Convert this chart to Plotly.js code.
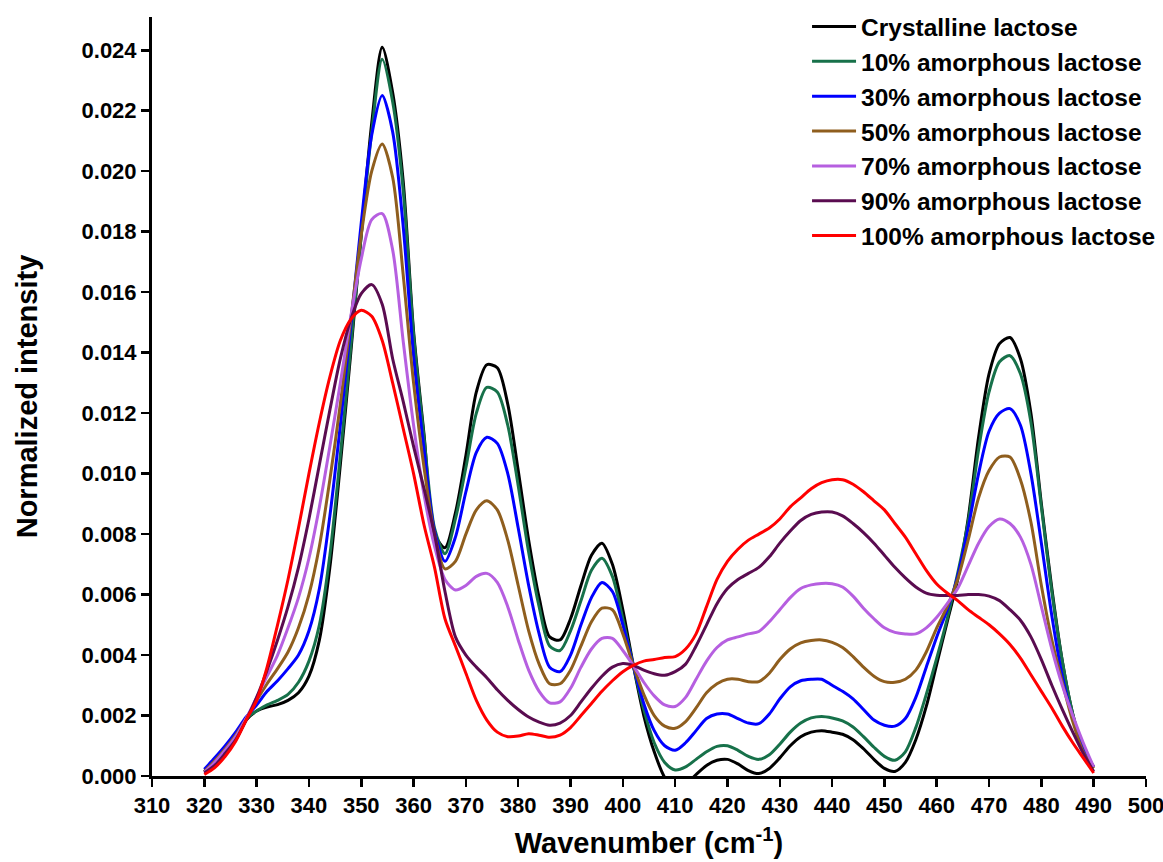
<!DOCTYPE html>
<html>
<head>
<meta charset="utf-8">
<script src="https://cdn.plot.ly/plotly-3.0.1.min.js"></script>
<style>
html,body{margin:0;padding:0;background:#fff;}
#chart{width:1163px;height:862px;}
</style>
</head>
<body>
<div id="chart"></div>
<script>
// Wavenumber grid (cm-1)
const wavenumber = [320,322,324,326,328,330,332,334,336,338,
340,342,344,346,348,350,352,354,356,358,
360,362,364,366,368,370,372,374,376,378,
380,382,384,386,388,390,392,394,396,398,
400,402,404,406,408,410,412,414,416,418,
420,422,424,426,428,430,432,434,436,438,
440,442,444,446,448,450,452,454,456,458,
460,462,464,466,468,470,472,474,476,478,
480,482,484,486,488,490];

// Normalized intensity, in units of 0.001
const crystalline = [0.15,0.4,0.75,1.2,1.85,2.15,2.28,2.36,2.5,2.75,
3.3,4.5,6.9,10.3,14.0,17.9,21.6,24.1,22.6,19.7,
14.7,11.3,8.0,7.55,8.7,10.6,12.7,13.6,13.5,12.3,
10.1,7.8,5.9,4.6,4.5,5.2,6.3,7.3,7.7,7.0,
5.5,3.66,2.0,0.8,-0.05,-0.5,-0.3,0.05,0.35,0.52,
0.55,0.4,0.18,0.08,0.25,0.6,1.0,1.3,1.45,1.5,
1.45,1.38,1.2,0.9,0.55,0.25,0.15,0.45,1.2,2.3,
3.7,5.1,6.5,8.5,11.2,13.3,14.3,14.5,13.8,12.0,
9.0,6.2,3.8,2.05,0.9,0.3];

const amorphous10 = [0.15,0.45,0.8,1.25,1.9,2.15,2.35,2.5,2.7,3.1,
3.8,5.0,7.3,10.6,14.2,17.9,21.3,23.7,22.3,19.4,
14.6,11.2,8.2,7.35,8.5,10.2,12.0,12.85,12.7,11.6,
9.6,7.4,5.6,4.3,4.15,4.8,5.8,6.8,7.2,6.6,
5.2,3.65,2.2,1.1,0.45,0.2,0.3,0.55,0.8,0.98,
1.0,0.85,0.65,0.55,0.7,1.05,1.45,1.75,1.92,1.97,
1.92,1.82,1.62,1.3,0.95,0.65,0.52,0.8,1.6,2.7,
3.9,5.2,6.7,8.4,10.8,12.7,13.7,13.9,13.3,11.7,
8.9,6.1,3.8,2.05,0.9,0.3];

const amorphous30 = [0.22,0.6,1.0,1.45,1.95,2.35,2.8,3.15,3.55,4.0,
4.8,6.2,8.6,11.6,14.9,18.3,21.2,22.5,21.3,18.2,
13.9,10.8,8.1,7.1,7.9,9.4,10.7,11.2,11.0,10.0,
8.2,6.3,4.7,3.6,3.45,4.0,5.0,5.9,6.4,6.1,
5.0,3.65,2.4,1.5,1.0,0.85,1.1,1.5,1.9,2.05,
2.05,1.9,1.75,1.73,2.05,2.55,2.95,3.15,3.2,3.2,
3.0,2.8,2.55,2.2,1.85,1.68,1.65,1.9,2.6,3.6,
4.6,5.5,6.6,8.2,10.0,11.4,12.0,12.15,11.6,10.0,
7.7,5.3,3.3,1.9,0.85,0.3];

const amorphous50 = [0.15,0.5,0.9,1.35,1.9,2.5,3.05,3.55,4.1,4.9,
6.0,7.6,9.8,12.3,15.1,17.9,20.0,20.9,19.8,16.6,
13.0,10.2,8.0,6.85,7.1,8.0,8.8,9.1,8.8,7.8,
6.3,4.8,3.7,3.05,3.05,3.5,4.3,5.1,5.55,5.5,
4.7,3.65,2.7,2.0,1.65,1.58,1.8,2.25,2.75,3.05,
3.2,3.2,3.12,3.12,3.4,3.85,4.2,4.4,4.48,4.5,
4.42,4.25,3.95,3.6,3.3,3.12,3.1,3.2,3.5,4.1,
4.9,5.6,6.5,7.8,9.2,10.1,10.55,10.55,9.8,8.4,
6.3,4.5,3.1,1.8,0.8,0.25];

const amorphous70 = [0.12,0.45,0.85,1.3,1.9,2.6,3.3,4.0,4.9,5.9,
7.2,8.9,10.9,13.0,15.2,17.1,18.4,18.6,17.4,14.4,
11.6,9.3,7.6,6.5,6.15,6.3,6.6,6.7,6.4,5.6,
4.5,3.5,2.8,2.42,2.45,2.9,3.6,4.2,4.55,4.55,
4.15,3.65,3.1,2.65,2.35,2.3,2.6,3.2,3.8,4.25,
4.5,4.6,4.7,4.78,5.1,5.5,5.9,6.2,6.32,6.37,
6.36,6.25,5.95,5.55,5.2,4.9,4.75,4.7,4.7,4.9,
5.25,5.7,6.2,6.95,7.7,8.25,8.5,8.35,7.9,7.0,
5.6,4.2,3.0,2.0,1.1,0.3];

const amorphous90 = [0.1,0.35,0.75,1.2,1.85,2.6,3.5,4.5,5.6,6.9,
8.5,10.3,12.1,13.8,15.1,15.95,16.25,15.6,13.8,12.4,
10.9,9.5,8.0,6.1,4.6,4.0,3.6,3.25,2.85,2.5,
2.2,1.95,1.78,1.68,1.75,2.0,2.45,2.9,3.3,3.6,
3.72,3.66,3.5,3.38,3.33,3.45,3.7,4.3,5.0,5.7,
6.2,6.5,6.7,6.9,7.25,7.7,8.1,8.45,8.65,8.73,
8.73,8.6,8.35,8.05,7.7,7.3,6.9,6.55,6.25,6.05,
5.98,5.97,5.97,6.0,6.0,5.95,5.8,5.5,5.15,4.6,
3.85,3.0,2.2,1.45,0.75,0.15];

const amorphous100 = [0.05,0.28,0.65,1.15,1.85,2.5,3.6,5.0,6.5,8.2,
10.0,11.7,13.2,14.4,15.1,15.4,15.2,14.4,13.0,11.5,
10.0,8.3,6.9,5.2,4.3,3.4,2.5,1.85,1.45,1.3,
1.32,1.4,1.35,1.28,1.35,1.6,2.0,2.4,2.8,3.15,
3.45,3.66,3.8,3.85,3.92,3.95,4.2,4.7,5.6,6.5,
7.1,7.5,7.8,8.0,8.2,8.5,8.9,9.2,9.5,9.7,
9.8,9.8,9.65,9.4,9.1,8.8,8.35,7.9,7.35,6.8,
6.35,6.05,5.8,5.5,5.25,5.0,4.7,4.35,3.9,3.35,
2.8,2.25,1.65,1.1,0.6,0.1];

const seriesNames = ["Crystalline lactose","10% amorphous lactose","30% amorphous lactose",
  "50% amorphous lactose","70% amorphous lactose","90% amorphous lactose","100% amorphous lactose"];
const seriesData = [crystalline, amorphous10, amorphous30, amorphous50, amorphous70, amorphous90, amorphous100];
const seriesColors = ["#000000","#17714a","#0000ff","#8f5e1e","#b65fe0","#5a0c50","#ff0000"];

const FONT = "Liberation Sans, Arial, Helvetica, sans-serif";

const traces = seriesData.map((vals, i) => ({
  type: "scatter",
  mode: "lines",
  x: wavenumber,
  y: vals.map(v => v / 1000),
  name: seriesNames[i],
  legendgroup: "g" + i,
  line: {color: seriesColors[i], width: 3, shape: "spline", smoothing: 0.8}
}));

const layout = {
  width: 1163,
  height: 862,
  paper_bgcolor: "#ffffff",
  plot_bgcolor: "#ffffff",
  margin: {l: 152, r: 17, t: 17, b: 86, pad: 0, autoexpand: false},
  font: {family: FONT, color: "#000000", size: 22, weight: "bold"},
  showlegend: true,
  legend: {
    x: 0.659, xanchor: "left",
    y: 1.017, yanchor: "top",
    bgcolor: "rgba(0,0,0,0)",
    borderwidth: 0,
    itemwidth: 44,
    tracegroupgap: 0,
    font: {family: FONT, size: 24.5, color: "#000000", weight: "bold"}
  },
  xaxis: {
    range: [310, 500],
    tick0: 310, dtick: 10,
    ticks: "outside", ticklen: 8, tickwidth: 2.5, tickcolor: "#000",
    ticklabeloverflow: "allow",
    showline: true, linecolor: "#000", linewidth: 3,
    showgrid: false, zeroline: false,
    tickfont: {family: FONT, size: 22, color: "#000", weight: "bold"},
    title: {text: "Wavenumber (cm<sup>-1</sup>)", font: {family: FONT, size: 29, color: "#000", weight: "bold"}, standoff: 16}
  },
  yaxis: {
    range: [0, 0.0251],
    tick0: 0, dtick: 0.002, tickformat: ".3f",
    ticks: "outside", ticklen: 8, tickwidth: 2.5, tickcolor: "#000",
    showline: true, linecolor: "#000", linewidth: 3,
    showgrid: false, zeroline: false,
    tickfont: {family: FONT, size: 22, color: "#000", weight: "bold"},
    title: {text: "Normalized intensity", font: {family: FONT, size: 29, color: "#000", weight: "bold"}, standoff: 36}
  }
};

Plotly.newPlot("chart", traces, layout, {displayModeBar: false, staticPlot: true});
</script>
</body>
</html>
